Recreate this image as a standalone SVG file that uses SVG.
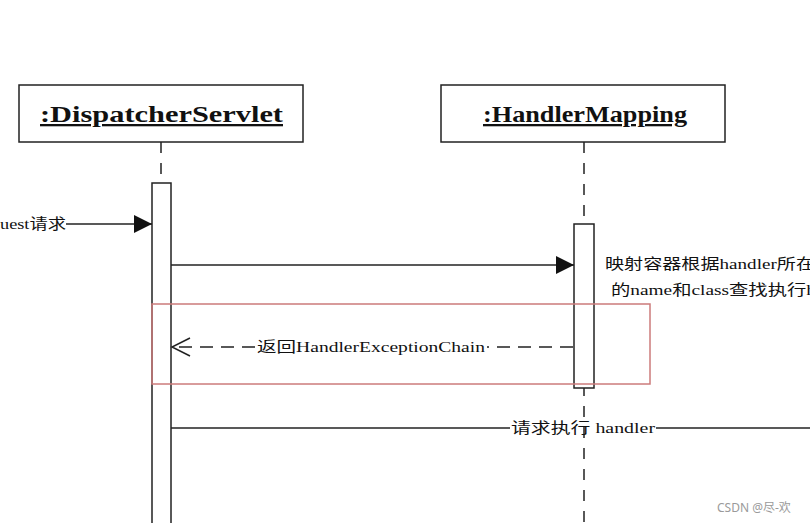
<svg xmlns="http://www.w3.org/2000/svg" width="810" height="523" viewBox="0 0 810 523">
<defs>
<style>
.box{fill:#fff;stroke:#222;stroke-width:1.5}
.title{font-family:"Liberation Serif","Noto Sans CJK SC",serif;font-weight:bold;font-size:23px;fill:#111;text-decoration:underline}
.life{stroke:#222;stroke-width:1.5;stroke-dasharray:11 10;fill:none}
.act{fill:#fff;stroke:#222;stroke-width:1.5}
.msg{stroke:#222;stroke-width:1.5;fill:none}
.ret{stroke:#222;stroke-width:1.5;fill:none;stroke-dasharray:13 8}
.lbl{font-family:"Liberation Serif","Noto Sans CJK SC",serif;font-size:15px;fill:#111}
</style>
<marker id="filled" markerWidth="18" markerHeight="18" viewBox="0 0 18 18" refX="18" refY="9" orient="auto" markerUnits="userSpaceOnUse">
<path d="M0,0 L18,9 L0,18 Z" fill="#111"/>
</marker>
</defs>
<rect width="810" height="523" fill="#fff"/>

<g id="dispatcherServlet">
<rect class="box" x="19" y="85" width="284" height="57"/>
<text class="title" x="40" y="122" textLength="243" lengthAdjust="spacingAndGlyphs">:DispatcherServlet</text>
<line class="life" x1="161" y1="142" x2="161" y2="183"/>
<rect class="act" x="152" y="183" width="19" height="345"/>
</g>

<g id="handlerMapping">
<rect class="box" x="441" y="85" width="284" height="57"/>
<text class="title" x="483" y="122" textLength="204" lengthAdjust="spacingAndGlyphs">:HandlerMapping</text>
<line class="life" x1="584" y1="142" x2="584" y2="224"/>
<line class="life" x1="584" y1="388" x2="584" y2="523" stroke-dashoffset="3"/>
<rect class="act" x="574" y="224" width="20" height="164"/>
</g>

<g id="highlight">
<rect x="152" y="304" width="498" height="80" fill="none" stroke="#cc7b7b" stroke-width="1.5"/>
</g>

<g id="connectors">
<line class="msg" x1="66" y1="224" x2="152" y2="224" marker-end="url(#filled)"/>
<line class="msg" x1="171" y1="265" x2="574" y2="265" marker-end="url(#filled)"/>
<line class="ret" x1="573" y1="347" x2="487" y2="347"/>
<line class="ret" x1="255" y1="347" x2="173" y2="347"/>
<path class="msg" d="M190,338 L172,347 L190,356"/>
<line class="msg" x1="171" y1="428" x2="510" y2="428"/>
<line class="msg" x1="656" y1="428" x2="810" y2="428"/>
</g>

<g id="labels">
<text class="lbl" x="0" y="229" textLength="66" lengthAdjust="spacingAndGlyphs">uest请求</text>
<text class="lbl" x="605" y="269" textLength="210" lengthAdjust="spacingAndGlyphs">映射容器根据handler所在</text>
<text class="lbl" x="611" y="295" textLength="205" lengthAdjust="spacingAndGlyphs">的name和class查找执行h</text>
<text class="lbl" x="257" y="352" textLength="228" lengthAdjust="spacingAndGlyphs">返回HandlerExceptionChain</text>
<text class="lbl" x="511" y="433" textLength="144" lengthAdjust="spacingAndGlyphs">请求执行 handler</text>
</g>

<text x="717" y="512" font-family="'Noto Sans','Noto Sans CJK SC',sans-serif" font-size="12" fill="#9a9a9a">CSDN @尽-欢</text>
</svg>
